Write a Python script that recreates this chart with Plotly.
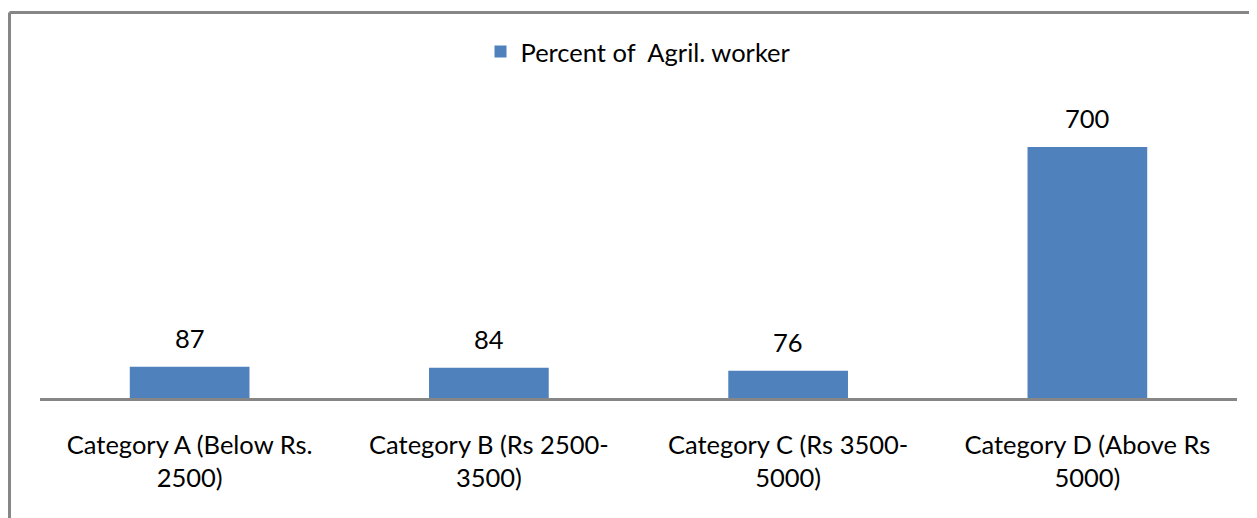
import plotly.graph_objects as go

categories = ["Category A (Below Rs.<br>2500)", "Category B (Rs 2500-<br>3500)",
              "Category C (Rs 3500-<br>5000)", "Category D (Above Rs<br>5000)"]
values = [87, 84, 76, 700]
series_name = "Percent of  Agril. worker"

# page body has an 8px margin, so the figure is offset by 8px
OFF = 8
W, H = 1257 - OFF, 518 - OFF
L, R, T, B = 40 - OFF, 20, 111 - OFF, 120
pw, ph = W - L - R, H - T - B
FONT = "Lato"
FS = 25.5
GRAY = "#868686"

fig = go.Figure()
fig.add_trace(go.Bar(x=categories, y=values, name=series_name,
                     marker=dict(color="#4F81BD", line=dict(width=0)),
                     showlegend=True))

for c, v in zip(categories, values):
    fig.add_annotation(x=c, y=v, text=str(v), showarrow=False, yanchor="bottom",
                       yshift=12, font=dict(family=FONT, size=FS, color="black"))

def px(x):
    return (x - OFF - L) / pw

def py(y):
    return (H - B - (y - OFF)) / ph

# chart border (top and left)
fig.add_shape(type="line", xref="paper", yref="paper", x0=px(9.5), x1=px(1262),
              y0=py(12.5), y1=py(12.5), line=dict(color=GRAY, width=3))
fig.add_shape(type="line", xref="paper", yref="paper", x0=px(9.5), x1=px(9.5),
              y0=py(12.5), y1=py(523), line=dict(color=GRAY, width=3))

fig.update_layout(
    width=W, height=H,
    margin=dict(l=L, r=R, t=T, b=B),
    paper_bgcolor="white", plot_bgcolor="white",
    bargap=0.6,
    font=dict(family=FONT, size=FS, color="black"),
    legend=dict(orientation="h", x=0.5, xanchor="center", y=py(52), yanchor="middle",
                font=dict(family=FONT, size=FS, color="black"), itemwidth=30),
    xaxis=dict(showline=True, linecolor=GRAY, linewidth=3, ticks="outside",
               ticklen=22, tickcolor="rgba(0,0,0,0)", showgrid=False,
               tickfont=dict(family=FONT, size=FS, color="black")),
    yaxis=dict(range=[0, 800], visible=False, showgrid=False, zeroline=False),
)

fig.write_html("out.html")
